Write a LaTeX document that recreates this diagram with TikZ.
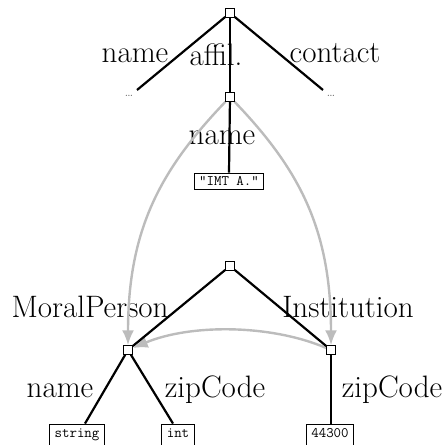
\documentclass[tikz,border=0pt]{standalone}
\usetikzlibrary{arrows.meta}
\definecolor{arrowgray}{RGB}{188,188,188}
\tikzset{
  sq/.style={draw=black, fill=white, line width=0.9pt, minimum size=9.5pt, inner sep=0pt, outer sep=0pt},
  lbl/.style={font=\fontsize{31}{36}\selectfont, inner sep=0pt, anchor=base},
  valbox/.style={draw=black, line width=0.9pt, font=\ttfamily\fontsize{14.5}{16}\selectfont, inner xsep=5pt, inner ysep=3pt, text height=9pt, text depth=1pt, anchor=base},
  tallbox/.style={valbox, text height=10pt, text depth=10pt},
  treeline/.style={line width=2.2pt, black},
  gline/.style={line width=2.4pt, color=arrowgray, -{Latex[length=15pt,width=12pt]}},
  dots/.style={font=\fontsize{15}{17}\selectfont, text=black!60, inner sep=0pt}
}
\begin{document}
\begin{tikzpicture}[x=1pt, y=1pt]
\useasboundingbox (0,0) rectangle (446,-444);
% top tree
\coordinate (endL) at (137,-90);
\coordinate (endR) at (323,-90);
\node[dots] (dotsL) at (129,-96) {\ldots};
\node[dots] (dotsR) at (331,-96) {\ldots};
\node[lbl] (lname) at (135,-63) {name};
\node[lbl] (laffil) at (216,-65) {affil.};
\node[lbl] (lcontact) at (335,-63) {contact};
\node[lbl] (lname2) at (222,-144) {name};
\node[valbox] (imt) at (229,-185) {"IMT A."};
% bottom tree
\node[lbl] (lmoral) at (90,-317) {MoralPerson};
\node[lbl] (linst) at (348,-317) {Institution};
\node[lbl] (lname3) at (60,-397) {name};
\node[lbl] (lzip1) at (215,-397) {zipCode};
\node[lbl] (lzip2) at (392,-397) {zipCode};
\node[tallbox] (bstring) at (77,-437) {string};
\node[tallbox] (bint) at (178,-437) {int};
\node[tallbox] (b44300) at (330,-437) {44300};
% squares
\node[sq] (root) at (230,-13) {};
\node[sq] (mid) at (230,-97) {};
\node[sq] (broot) at (230,-266) {};
\node[sq] (lc) at (128,-350) {};
\node[sq] (rc) at (331,-350) {};
% gray curves
\draw[gline] (mid) .. controls (160,-170) and (128,-230) .. (lc);
\draw[gline] (mid) .. controls (300,-170) and (331,-230) .. (rc);
\draw[gline] (rc) .. controls (270,-324) and (190,-324) .. (lc);
% tree edges
\draw[treeline] (root) -- (endL);
\draw[treeline] (root) -- (endR);
\draw[treeline] (root) -- (mid);
\draw[treeline] (mid) -- (imt.north);
\draw[treeline] (broot) -- (lc);
\draw[treeline] (broot) -- (rc);
\draw[treeline] (lc) -- (bstring.north -| 85,0);
\draw[treeline] (lc) -- (bint.north -| 173,0);
\draw[treeline] (rc) -- (b44300.north -| 331,0);
% squares on top
\node[sq] at (root) {};
\node[sq] at (mid) {};
\node[sq] at (broot) {};
\node[sq] at (lc) {};
\node[sq] at (rc) {};
\end{tikzpicture}
\end{document}
